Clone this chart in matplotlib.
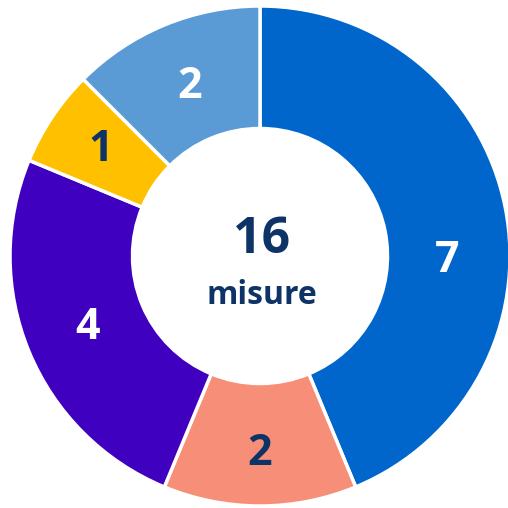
import matplotlib
matplotlib.use("Agg")
import matplotlib.pyplot as plt
import numpy as np

values = [7, 2, 4, 1, 2]
colors = ["#0066CC", "#F78E78", "#4000BF", "#FFC000", "#5B9BD5"]
label_colors = ["white", "#0E3366", "white", "#0E3366", "white"]
total_label = "16"
unit_label = "misure"

plt.rcParams['font.family'] = ['Open Sans', 'DejaVu Sans']

fig = plt.figure(figsize=(5.08, 5.08), dpi=100)
ax = fig.add_axes([0, 0, 1, 1])
R = 250
wedges, texts = ax.pie(values, colors=colors, labels=[str(v) for v in values],
                       startangle=90, counterclock=False, radius=R,
                       labeldistance=0.75,
                       wedgeprops=dict(width=R * 0.49, edgecolor="white", linewidth=2.5),
                       textprops=dict(fontsize=31, fontweight="bold"))
# label radial distances / angles tuned to the reference placement
label_dist = [0.75, 0.79, 0.745, 0.765, 0.735]
for i, (t, c, w) in enumerate(zip(texts, label_colors, wedges)):
    t.set_color(c)
    t.set_ha("center")
    t.set_va("center")
    ang = np.deg2rad(-1.5 if i == 0 else (w.theta1 + w.theta2) / 2)
    t.set_position((label_dist[i] * R * np.cos(ang), label_dist[i] * R * np.sin(ang)))

ax.text(2, 16, total_label, ha="center", va="center", fontsize=36, fontweight="bold", color="#0E3366")
ax.text(2, -39, unit_label, ha="center", va="center", fontsize=23, fontweight="bold", color="#0E3366")

ax.set_xlim(-260, 248)
ax.set_ylim(-252, 256)
ax.set_aspect("equal")
ax.axis("off")
fig.savefig("out.png", dpi=100)
